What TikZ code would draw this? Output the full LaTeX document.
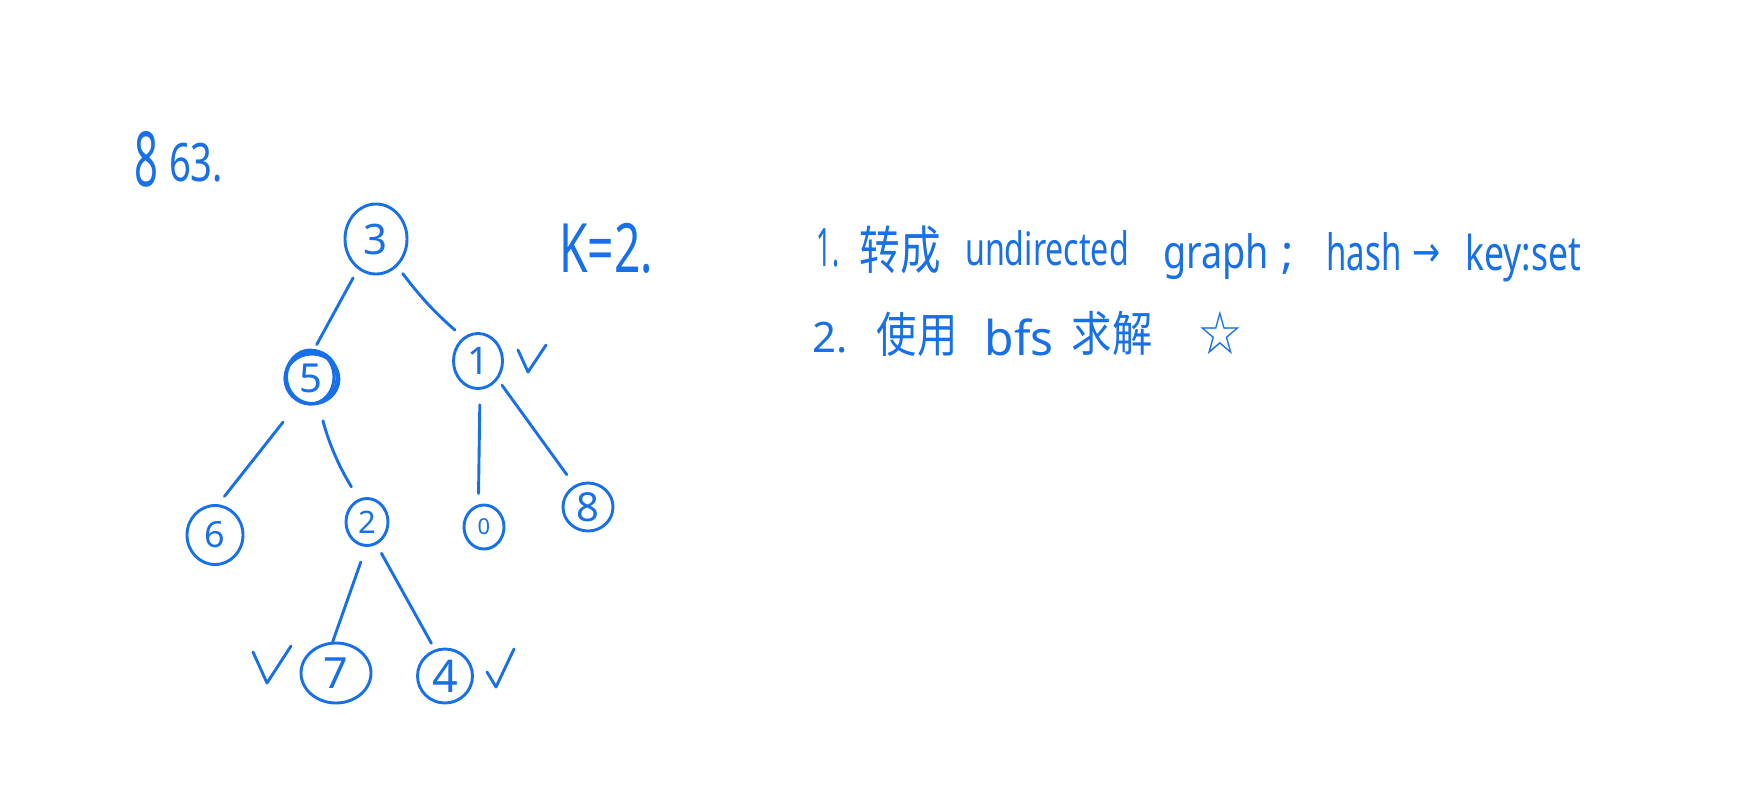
\documentclass[tikz,border=0pt]{standalone}
\usepackage{fontspec}
\usepackage{graphicx}
\setmainfont{Noto Sans}
\newfontfamily\cjk{Noto Sans CJK SC}
\newfontfamily\djv{DejaVu Sans}
\usetikzlibrary{shapes.geometric}
\definecolor{ink}{RGB}{24,112,232}
\newcommand{\fs}[1]{\fontsize{#1}{#1}\selectfont}
\newcommand{\hx}[2]{\scalebox{#1}[1]{#2}}
\begin{document}
\begin{tikzpicture}[x=1pt,y=-1pt,
  hw/.style={draw=ink, line width=2.9pt, line cap=round, line join=round},
  nd/.style={ellipse, draw=ink, line width=2.9pt, text=ink, inner sep=0pt},
  txt/.style={text=ink, inner sep=0pt, anchor=base},
  ctxt/.style={text=ink, inner sep=0pt, anchor=center}]
\fill[white] (0,0) rectangle (1764,788);
\useasboundingbox (0,0) rectangle (1764,788);

% title
\node[txt, font=\fs{76}] (t8) at (146,186) {\hx{0.55}{8}};
\node[txt, font=\fs{53}] (t63) at (196,181) {\hx{0.72}{63.}};

% K=2.
\node[txt, font=\fs{68}] (tk) at (606,272) {\hx{0.68}{K=2.}};

% line 1
\node[txt, font=\fs{53}] (l1a) at (828,266) {\hx{0.5}{1.}};
\node[ctxt, font=\cjk\fs{52}] (l1b) at (900,250) {\hx{0.78}{转成}};
\node[txt, font=\fs{46}] (l1c) at (1047,265) {\hx{0.70}{undirected}};
\node[txt, font=\fs{46}] (l1d) at (1216,268) {\hx{0.82}{graph}};
\node[txt, font=\fs{46}] (l1e) at (1288,268) {;};
\node[txt, font=\fs{50}] (l1f) at (1364,270) {\hx{0.66}{hash}};
\node[ctxt, font=\djv\fs{42}] (l1g) at (1427,255) {\hx{0.8}{→}};
\node[txt, font=\fs{48}] (l1h) at (1523,270) {\hx{0.74}{key:set}};

% line 2
\node[txt, font=\fs{42}] (l2a) at (830,352) {2.};
\node[ctxt, font=\cjk\fs{48}] (l2b) at (917,334) {\hx{0.84}{使用}};
\node[txt, font=\fs{48}] (l2c) at (1019,355) {bfs};
\node[ctxt, font=\cjk\fs{48}] (l2d) at (1112,333) {\hx{0.84}{求解}};
\node[ctxt, font=\djv\fs{60}] (l2e) at (1220,333) {\hx{0.85}{☆}};

% tree nodes
\node[nd, minimum width=62pt, minimum height=70pt, font=\fs{42}] (n3) at (376,239) {3};
\node[nd, minimum width=52pt, minimum height=52pt, font=\fs{40}] (n5) at (311,378) {5};
\node[nd, minimum width=49pt, minimum height=55pt, font=\fs{38}] (n1) at (478,361) {1};
\node[nd, minimum width=56pt, minimum height=59pt, font=\fs{36}] (n6) at (215,535) {6};
\node[nd, minimum width=42pt, minimum height=47pt, font=\fs{31}] (n2) at (367,522) {2};
\node[nd, minimum width=40pt, minimum height=44pt, font=\fs{22}] (n0) at (484,527) {0};
\node[nd, minimum width=50pt, minimum height=48pt, font=\fs{40}] (n8) at (588,507) {8};
\node[nd, minimum width=70pt, minimum height=60pt, font=\fs{43}] (n7) at (336,673) {7};
\node[nd, minimum width=55pt, minimum height=54pt, font=\fs{45}] (n4) at (445,676) {4};

% scribbled extra rings round 5
\draw[hw] ([shift={(1pt,-1pt)}]n5.center) ellipse (27pt and 25pt);
\draw[hw] ([shift={(-1pt,1pt)}]n5.center) ellipse (24pt and 27pt);
\draw[hw] ([shift={(1pt,1pt)}]n5.center) ellipse (25.5pt and 26.5pt);

% edges
\draw[hw, shorten <=10pt, shorten >=7pt] (n3.239) -- (n5.85);
\draw[hw, shorten <=9pt, shorten >=11pt] (n3.308) to[bend right=6] (n1.122);
\draw[hw, shorten <=25pt, shorten >=10pt] (n5.243) -- (n6.84);
\draw[hw, shorten <=17pt, shorten >=14pt] (n5.286) to[bend right=8] (n2.110);
\draw[hw, shorten <=15pt, shorten >=11pt] (n1.274) -- (n0.104);
\draw[hw, shorten <=7pt, shorten >=13pt] (n1.317) -- (n8.122);
\draw[hw, shorten <=16pt, shorten >=0pt] (n2.268) -- (n7.96);
\draw[hw, shorten <=10pt, shorten >=7pt] (n2.293) -- (n4.111);

% check marks
\draw[hw] (518,350) -- (528,372) -- (546,345);
\draw[hw] (253,652) -- (267,683) -- (291,646);
\draw[hw] (487,672) -- (496,687) -- (514,649);
\end{tikzpicture}
\end{document}
